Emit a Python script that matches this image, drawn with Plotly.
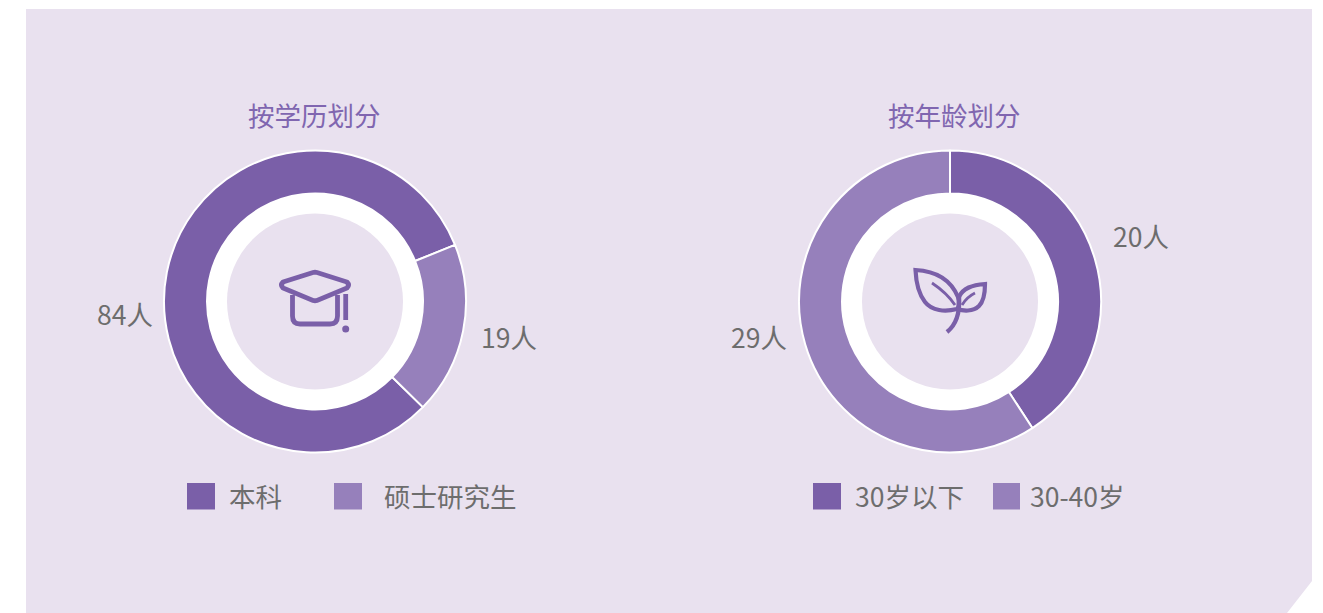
import plotly.graph_objects as go

W, H = 1323, 613
edu_labels = ["本科", "硕士研究生"]
edu_values = [84, 19]
age_labels = ["30岁以下", "30-40岁"]
age_values = [20, 29]
titles = ["按学历划分", "按年龄划分"]
DARK, LIGHT = "#7a5fa8", "#9680bb"
BG, TITLE_C, TXT = "#e9e1ef", "#8066b0", "#6d6d6d"
FONT = "Noto Sans CJK SC"
CY, R = 301.5, 151
RING_R, INNER_R = 108, 88
CX = [315, 950]


def circle(cx, cy, r, color):
    return dict(type="circle", x0=cx - r, x1=cx + r, y0=cy - r, y1=cy + r,
                fillcolor=color, line_width=0, layer="below")


def stroke(path, width=4.8, fill=None):
    return dict(type="path", path=path, line=dict(color=DARK, width=width),
                fillcolor=fill or "rgba(0,0,0,0)", layer="above")


def square(x0, x1, color):
    return dict(type="rect", x0=x0, x1=x1, y0=483, y1=509.5, fillcolor=color,
                line_width=0, layer="above")


def text(x, y, s, color=TXT, size=26.5, anchor="center"):
    return dict(x=x, y=y, text=s, showarrow=False, xanchor=anchor, yanchor="middle",
                font=dict(family=FONT, size=size, color=color, weight=400))


fig = go.Figure()
fig.add_trace(go.Scatter(x=[], y=[], showlegend=False, hoverinfo="skip"))

for i, (labels, values, rot) in enumerate([(edu_labels, edu_values, 134.4),
                                           (age_labels, age_values, 0)]):
    fig.add_trace(go.Pie(
        labels=labels, values=values, hole=0.715, sort=False, direction="clockwise",
        rotation=rot, textinfo="none", showlegend=False,
        marker=dict(colors=[DARK, LIGHT], line=dict(color="#ffffff", width=2)),
        domain=dict(x=[(CX[i] - R) / W, (CX[i] + R) / W],
                    y=[1 - (CY + R) / H, 1 - (CY - R) / H]),
    ))

shapes = [dict(type="path",
               path="M26,9 L1312,9 L1312,581 L1287,613 L26,613 Z",
               fillcolor=BG, line_width=0, layer="below")]
for cx in CX:
    shapes += [circle(cx, CY, RING_R, "#ffffff"), circle(cx, CY, INNER_R, BG)]

# graduation cap icon
shapes += [
    stroke("M283,282 L313,272.5 Q315,272 317,272.5 L347,282 Q350,285 347,288 "
           "L317,300.5 Q315,301 313,300.5 L283,288 Q280,285 283,282 Z"),
    stroke("M292.5,295 L292.5,316 Q292.5,324 300,324 L330,324 Q337.5,324 337.5,316 L337.5,295"),
    stroke("M345.7,294 L345.7,320"),
    dict(type="circle", x0=342.2, x1=349.2, y0=325.5, y1=332.5, fillcolor=DARK,
         line_width=0, layer="above"),
]
# sprout icon
shapes += [
    stroke("M915.5,270 C935,271 950,278 958,297 C960,303 958,309 957,309 "
           "C945,312 932,311 925,302 C918,293 916,282 915.5,270 Z", 4.2),
    stroke("M959,297 C963,288 972,285 985,284 C985,292 984,301 979,306 "
           "C973,312 963,311 957,309", 4.2),
    stroke("M959,297 C960,312 957,324 947,332", 4.4),
    stroke("M932,283 C941,289 949,296 955,305", 2.8),
    stroke("M975,293 C969,296 965,300 962,305", 2.8),
]
# legend swatches
shapes += [square(187, 215, DARK), square(334, 362, LIGHT),
           square(813, 841, DARK), square(993, 1020, LIGHT)]

annotations = [
    text(314.5, 114, titles[0], TITLE_C),
    text(954, 114, titles[1], TITLE_C),
    text(125, 313, f"{edu_values[0]}人"),
    text(508.5, 336.5, f"{edu_values[1]}人"),
    text(1140.5, 235, f"{age_values[0]}人"),
    text(758.5, 336.5, f"{age_values[1]}人"),
    text(226.5, 495.5, edu_labels[0], anchor="left"),
    text(381.5, 495.5, edu_labels[1], anchor="left"),
    text(852.5, 495.5, age_labels[0], anchor="left"),
    text(1028, 495.5, age_labels[1], anchor="left"),
]
for a in annotations:
    a.update(xref="x", yref="y")
for s in shapes:
    s.update(xref="x", yref="y")

fig.update_layout(
    width=W, height=H, margin=dict(l=0, r=0, t=0, b=0),
    paper_bgcolor="#ffffff", plot_bgcolor="rgba(0,0,0,0)",
    xaxis=dict(range=[0, W], visible=False, fixedrange=True),
    yaxis=dict(range=[H, 0], visible=False, fixedrange=True),
    shapes=shapes, annotations=annotations, showlegend=False,
)
fig.write_html("out.html", config={"displayModeBar": False},
               default_width=W, default_height=H,
               post_script="document.body.style.margin='0';document.body.style.overflow='hidden';")
